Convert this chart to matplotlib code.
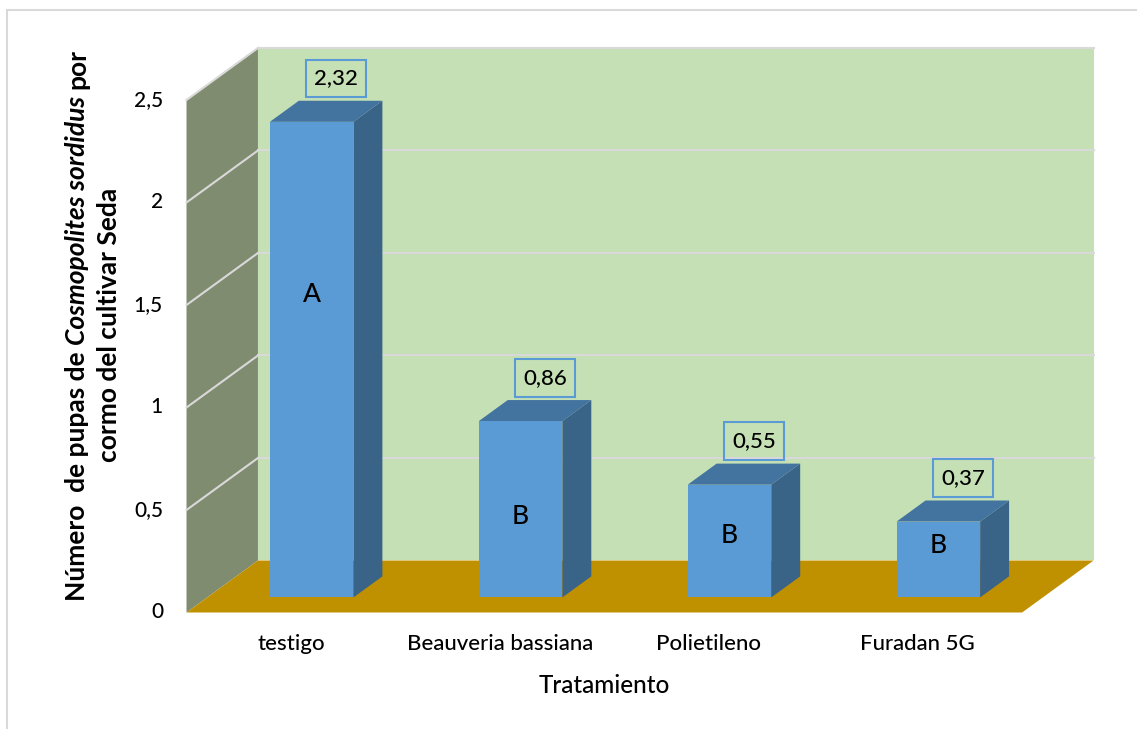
import matplotlib
matplotlib.use("Agg")
import matplotlib.pyplot as plt
from matplotlib.patches import Polygon, Rectangle

tratamientos = ["testigo", "Beauveria bassiana", "Polietileno", "Furadan 5G"]
pupas = [2.32, 0.86, 0.55, 0.37]
letras = ["A", "B", "B", "B"]
ticks_y = [0, 0.5, 1, 1.5, 2, 2.5]

# altura en la que va la letra de cada barra
letra_y = [1.55, 0.47, 0.375, 0.325]

FUENTE = "Lato"
PESO = 500
# desplazamiento de la profundidad (efecto 3D) en unidades de datos
DX, DY = 0.342, 0.2537
D0, D1 = 0.29, 0.695
ANCHO = 0.40
YMAX = 2.5
W, H = 1137, 729
# tamaño de los recuadros de los valores (unidades de datos)
CAJA_W, CAJA_H = 0.287, 0.185


def proy(x, y, d):
    return (x + d * DX, y + d * DY)


def coma(v, fmt):
    return format(v, fmt).replace(".", ",")


fig = plt.figure(figsize=(W / 100, H / 100), dpi=100)
ax = fig.add_axes([0, 0, 1, 1])
ax.set_xlim(-1.3928, 4.050)
ax.set_ylim(-0.5683, 2.9878)
ax.axis("off")

x0, x1 = -0.5, len(tratamientos) - 0.5

# paredes y piso
fondo = [proy(x0, 0, 1), proy(x1, 0, 1), proy(x1, YMAX, 1), proy(x0, YMAX, 1)]
ax.add_patch(Polygon(fondo, closed=True, fc="#C5E0B4", ec="none", zorder=1))
lateral = [proy(x0, 0, 0), proy(x0, 0, 1), proy(x0, YMAX, 1), proy(x0, YMAX, 0)]
ax.add_patch(Polygon(lateral, closed=True, fc="#7F8C6F", ec="none", zorder=1))
piso = [proy(x0, 0, 0), proy(x1, 0, 0), proy(x1, 0, 1), proy(x0, 0, 1)]
ax.add_patch(Polygon(piso, closed=True, fc="#BF9000", ec="none", zorder=2))

for t in ticks_y[1:]:
    xa, ya = proy(x0, t, 1)
    xb, yb = proy(x1, t, 1)
    xc, yc = proy(x0, t, 0)
    ax.plot([xa, xb], [ya, yb], color="#D9D9D9", lw=1.5, zorder=1.5)
    ax.plot([xc, xa], [yc, ya], color="#D9D9D9", lw=1.5, zorder=1.5)

for t in ticks_y:
    ax.text(-0.6125, t, coma(t, "g"), ha="right", va="center",
            fontsize=15, family=FUENTE, weight=PESO)

# barras
for i, v in enumerate(pupas):
    xl, xr = i - ANCHO / 2, i + ANCHO / 2
    frente = [proy(xl, 0, D0), proy(xr, 0, D0), proy(xr, v, D0), proy(xl, v, D0)]
    techo = [proy(xl, v, D0), proy(xr, v, D0), proy(xr, v, D1), proy(xl, v, D1)]
    lado = [proy(xr, 0, D0), proy(xr, 0, D1), proy(xr, v, D1), proy(xr, v, D0)]
    ax.add_patch(Polygon(lado, closed=True, fc="#3A6388", ec="none", zorder=3))
    ax.add_patch(Polygon(techo, closed=True, fc="#43739F", ec="none", zorder=3))
    ax.add_patch(Polygon(frente, closed=True, fc="#5B9BD5", ec="none", zorder=3))

    # etiqueta del valor en su recuadro
    xt, yt = proy(i, v, D1)
    xc, yc = xt - 0.02, yt + 0.016 + CAJA_H / 2
    ax.add_patch(Rectangle((xc - CAJA_W / 2, yc - CAJA_H / 2), CAJA_W, CAJA_H,
                           fill=False, ec="#5B9BD5", lw=1.5, zorder=4))
    ax.text(xc, yc, coma(v, ".2f"), ha="center", va="center",
            fontsize=16, family=FUENTE, weight=PESO, zorder=4)

    xf, _ = proy(i, 0, D0)
    ax.text(xf, letra_y[i], letras[i], ha="center", va="center",
            fontsize=19, family=FUENTE, weight=PESO, zorder=4)

    ax.text(i, -0.155, tratamientos[i], ha="center", va="center",
            fontsize=16, family=FUENTE, weight=PESO)

ax.text((x0 + x1) / 2, -0.355, "Tratamiento", ha="center", va="center",
        fontsize=17.5, family=FUENTE, weight=PESO)

# borde del gráfico
fig.patches.append(Rectangle((7 / W, -0.01), 1.1, (H - 10) / H + 0.01,
                             transform=fig.transFigure, fill=False,
                             ec="#D9D9D9", lw=1.5))

# título del eje y, con el nombre científico en cursiva
renderer = fig.canvas.get_renderer()
TAM_Y = 19


def ancho(s, estilo):
    t = fig.text(0, 0, s, fontsize=TAM_Y, family=FUENTE, weight="bold", style=estilo)
    w = t.get_window_extent(renderer).width
    t.remove()
    return w


espacio = ancho("n n", "normal") - ancho("nn", "normal")
lineas = [
    (85, [("Número  de pupas de", "normal"), ("Cosmopolites sordidus", "italic"),
          ("por", "normal")]),
    (117, [("cormo del cultivar Seda", "normal")]),
]
for xb, partes in lineas:
    largos = [ancho(s, e) for s, e in partes]
    total = sum(largos) + espacio * (len(partes) - 1)
    y = (H - 325) - total / 2
    for (s, e), l in zip(partes, largos):
        fig.text(xb / W, y / H, s, fontsize=TAM_Y, family=FUENTE, weight="bold",
                 style=e, rotation=90, rotation_mode="anchor",
                 ha="left", va="baseline")
        y += l + espacio

fig.savefig("out.png", dpi=100)
